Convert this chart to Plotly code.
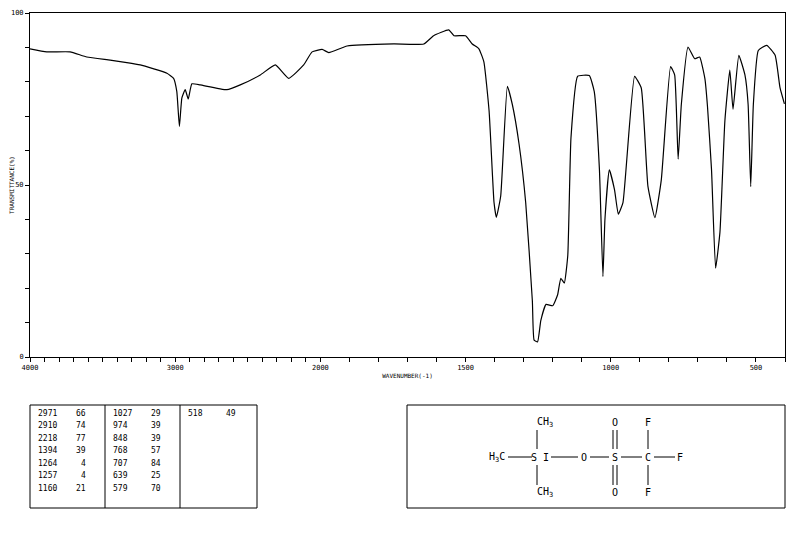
import plotly.graph_objects as go

# spectrum: wavenumber (cm-1) and transmittance (%)
wavenumber = [4000, 3885, 3724, 3609, 3448, 3333, 3241, 3057, 3011, 2989, 2971, 2954, 2931, 2910,
              2885, 2828, 2644, 2552, 2414, 2310, 2218, 2115, 2057, 1994, 1971, 1908, 1747, 1644,
              1610, 1558, 1540, 1500, 1477, 1454, 1437, 1419, 1402, 1394, 1379, 1356, 1339, 1316,
              1293, 1270, 1264, 1252, 1241, 1223, 1200, 1183, 1172, 1160, 1148, 1137, 1114, 1074,
              1057, 1039, 1027, 1020, 1005, 987, 974, 958, 918, 895, 872, 848, 826, 794, 780, 768,
              757, 734, 711, 694, 676, 667, 653, 639, 624, 607, 590, 579, 559, 538, 527, 518, 509,
              492, 463, 434, 417, 402]
transmittance = [89.6, 88.7, 88.7, 87.2, 86.3, 85.6, 84.9, 82.5, 81.0, 77.2, 67.0, 75.3, 77.7, 75.0,
                 79.4, 79.1, 77.7, 79.1, 82.0, 84.9, 81.0, 84.9, 88.7, 89.4, 88.5, 90.4, 91.0, 91.0,
                 93.4, 95.1, 93.4, 93.4, 91.0, 89.6, 85.8, 71.5, 44.9, 40.6, 46.8, 78.7, 73.4, 62.0,
                 44.9, 16.3, 4.9, 4.4, 10.6, 15.3, 14.9, 18.1, 22.9, 21.5, 29.6, 63.8, 81.6, 81.8,
                 77.2, 54.4, 23.4, 40.1, 54.4, 48.6, 41.5, 44.9, 81.6, 78.2, 49.6, 40.5, 51.5, 84.4,
                 82.0, 57.5, 73.4, 90.1, 86.7, 87.2, 81.0, 72.9, 54.4, 25.8, 36.3, 68.7, 83.4, 72.0,
                 87.7, 82.0, 73.4, 49.5, 73.4, 89.1, 90.6, 87.7, 78.2, 73.6]

peak_wn = [2971, 2910, 2218, 1394, 1264, 1257, 1160, 1027, 974, 848, 768, 707, 639, 579, 518]
peak_t = [66, 74, 77, 39, 4, 4, 21, 29, 39, 39, 57, 84, 25, 70, 49]
major_ticks = [4000, 3000, 2000, 1500, 1000, 500]


def to_axis(wn):
    # the scale doubles below 2000 cm-1
    return 4000 - wn if wn >= 2000 else 2000 + 2 * (2000 - wn)


tick_wn = list(range(4000, 399, -100))
fig = go.Figure()
fig.add_trace(go.Scatter(x=[to_axis(w) for w in wavenumber], y=transmittance, mode="lines",
                         line=dict(color="black", width=1.2, shape="spline", smoothing=0.4),
                         hoverinfo="skip"))

axis_font = dict(family="DejaVu Sans Mono", size=7, color="black")
fig.update_xaxes(range=[0, to_axis(400)], tickvals=[to_axis(w) for w in tick_wn],
                 ticktext=[str(w) if w in major_ticks else "" for w in tick_wn],
                 ticks="outside", ticklen=4, tickcolor="black", showgrid=False, zeroline=False,
                 showline=True, linecolor="black", mirror=True, tickfont=axis_font, automargin=False,
                 title=dict(text="WAVENUMBER(-1)", font=dict(family="DejaVu Sans Mono", size=6, color="black"),
                            standoff=2))
fig.update_yaxes(range=[0, 100], tickvals=list(range(0, 101, 10)),
                 ticktext=["0" if v == 0 else "50" if v == 50 else "100" if v == 100 else "" for v in range(0, 101, 10)],
                 ticks="outside", ticklen=4, tickcolor="black", showgrid=False, zeroline=False,
                 showline=True, linecolor="black", mirror=True, tickfont=axis_font, automargin=False,
                 title=dict(text="TRANSMITTANCE(%)", font=dict(family="DejaVu Sans Mono", size=6, color="black"),
                            standoff=0))

# page coordinates (pixels in the window) of the plot area
X0, W, H0, PLOT_H = 30, 755, 357, 344


def px(x):
    return (x - X0) / W


def py(y):
    return (H0 - y) / PLOT_H


shapes = []


def box(x0, y0, x1, y1):
    shapes.append(dict(type="rect", xref="paper", yref="paper", x0=px(x0), x1=px(x1),
                       y0=py(y1), y1=py(y0), line=dict(color="black", width=1)))


def seg(x0, y0, x1, y1):
    shapes.append(dict(type="line", xref="paper", yref="paper", x0=px(x0), x1=px(x1),
                       y0=py(y0), y1=py(y1), line=dict(color="black", width=1)))


annotations = []


def text(x, y, s, size=9, anchor="center"):
    annotations.append(dict(xref="paper", yref="paper", x=px(x), y=py(y), text=s, showarrow=False,
                            xanchor=anchor, yanchor="middle",
                            font=dict(family="DejaVu Sans Mono", size=size, color="black")))


# peak table
box(30, 405, 257, 508)
seg(105, 405, 105, 508)
seg(180, 405, 180, 508)
cols = [(36, 88), (111, 163), (186, 238)]
for i, (w, t) in enumerate(zip(peak_wn, peak_t)):
    c, r = divmod(i, 7)
    yy = 413 + r * 12.5
    text(cols[c][0], yy, str(w), size=8, anchor="left")
    text(cols[c][1], yy, str(t), size=8, anchor="right")

# structure
box(407, 405, 785, 508)
text(497, 457, "H<sub>3</sub>C", size=10)
text(540, 457, "S I", size=10)
text(584, 457, "O", size=10)
text(615, 457, "S", size=10)
text(648, 457, "C", size=10)
text(680, 457, "F", size=10)
text(545, 423, "CH<sub>3</sub>", size=10)
text(545, 492, "CH<sub>3</sub>", size=10)
text(615, 423, "O", size=10)
text(615, 492, "O", size=10)
text(648, 423, "F", size=10)
text(648, 492, "F", size=10)
seg(508, 457, 532, 457)
seg(551, 457, 578, 457)
seg(590, 457, 609, 457)
seg(621, 457, 642, 457)
seg(654, 457, 675, 457)
seg(537, 430, 537, 449)
seg(537, 465, 537, 485)
seg(613, 430, 613, 449)
seg(617, 430, 617, 449)
seg(613, 465, 613, 485)
seg(617, 465, 617, 485)
seg(648, 430, 648, 449)
seg(648, 465, 648, 485)

# the page adds an 8px body margin, so the figure is drawn 8px smaller and offset
fig.update_layout(width=788, height=536, margin=dict(l=22, r=11, t=5, b=187),
                  plot_bgcolor="white", paper_bgcolor="white", showlegend=False,
                  shapes=shapes, annotations=annotations)
fig.write_html("out.html")
